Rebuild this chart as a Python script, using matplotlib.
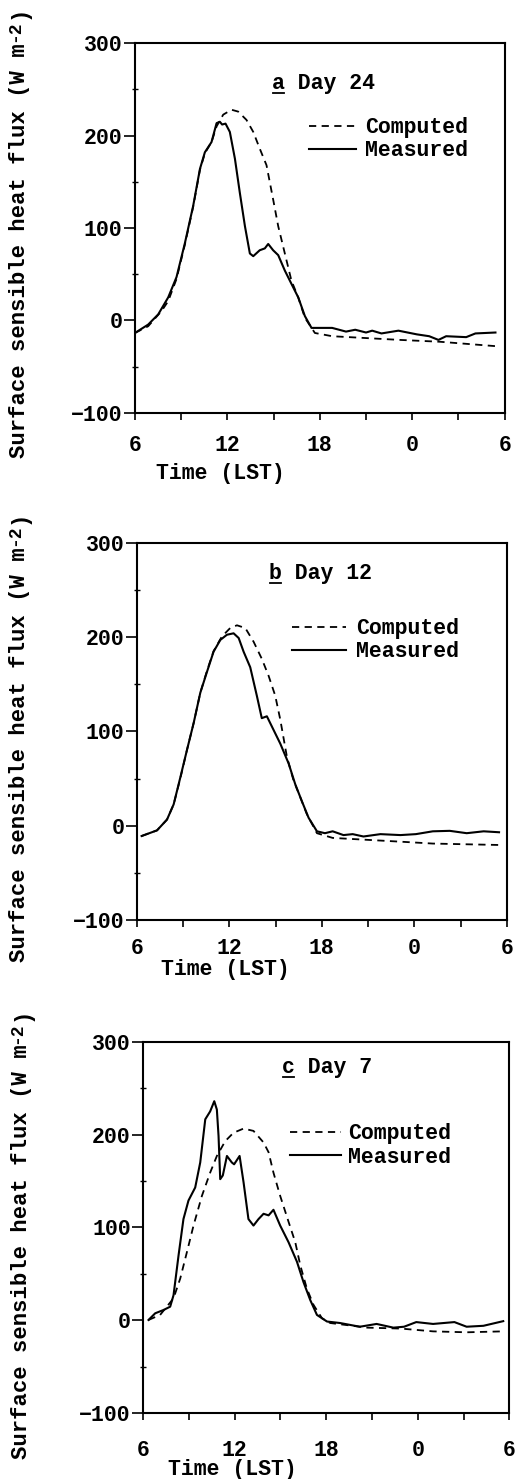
import matplotlib

matplotlib.use("Agg")
import matplotlib.pyplot as plt
from matplotlib.lines import Line2D

plt.rcParams["font.family"] = ["Liberation Mono", "DejaVu Sans Mono"]
plt.rcParams["font.weight"] = "bold"
plt.rcParams["axes.labelweight"] = "bold"

# time axis runs 06 LST to 06 LST next day, hours past midnight of day 1
x_ticks = [6, 9, 12, 15, 18, 21, 24, 27, 30]
x_tick_labels = ["6", "", "12", "", "18", "", "0", "", "6"]
y_ticks = [-100, 0, 100, 200, 300]

# --- a: Day 24 ---
a_meas_t = [6.0, 6.86, 7.51, 8.16, 8.70, 9.24, 9.78, 10.22, 10.54, 10.97, 11.30, 11.51,
            11.66, 11.88, 12.16, 12.49, 12.81, 13.14, 13.46, 13.68, 14.1, 14.43, 14.65,
            14.97, 15.30, 15.73, 16.16, 16.6, 17.03, 17.46, 18.1, 18.8, 19.7, 20.3, 21.0,
            21.4, 22.0, 23.1, 24.3, 25.1, 25.7, 26.2, 27.5, 28.1, 29.4]
a_meas_v = [-13.5, -4.4, 6.6, 25, 47, 83.5, 124, 164, 182, 193, 213.5, 215,
            212, 213, 204, 175, 138, 102, 72.5, 69.6, 76, 78, 82.8,
            76, 70.7, 54, 39.6, 25, 4.8, -8, -8, -8, -12, -10, -13,
            -11, -14, -11, -15, -17, -21, -17, -18, -14, -13]
a_comp_t = [6.0, 6.86, 7.73, 8.16, 8.70, 9.24, 9.78, 10.22, 10.54, 10.97, 11.30, 11.73,
            12.27, 12.70, 13.24, 13.68, 14.1, 14.54, 14.97, 15.3, 15.73, 16.16, 16.6,
            17.03, 17.68, 18.8, 23.2, 25.8, 29.6]
a_comp_v = [-13.5, -6.2, 10.3, 21, 45, 82, 123, 163, 181, 193, 210, 222.7,
            228, 226, 217, 204, 186, 168, 131, 102, 72.5, 43, 25,
            3, -13.5, -17, -21, -23, -28]

# --- b: Day 12 ---
b_meas_t = [6.3, 7.3, 7.95, 8.38, 8.81, 9.24, 9.68, 10.11, 10.54, 10.97, 11.41, 11.84,
            12.27, 12.6, 12.92, 13.35, 13.78, 14.1, 14.43, 14.76, 15.3, 15.84, 16.27,
            16.7, 17.14, 17.68, 18.2, 18.7, 19.4, 20.0, 20.7, 21.8, 23.1, 24.1, 25.2,
            26.3, 27.4, 28.5, 29.5]
b_meas_v = [-11, -5, 6.5, 22.6, 51, 80, 109, 141, 163, 184.5, 197, 202.5,
            204, 199, 184.5, 168, 137.7, 114, 116, 105, 87, 66, 44,
            26, 8.3, -6, -8, -6, -10, -9, -11.5, -9, -10, -9, -6,
            -5.5, -8, -6, -7]
b_comp_t = [6.3, 7.3, 7.95, 8.38, 8.81, 9.24, 9.68, 10.11, 10.54, 10.97, 11.51, 12.05,
            12.49, 13.03, 13.57, 14.1, 14.54, 14.97, 15.3, 15.73, 16.16, 16.6, 17.03,
            17.68, 18.7, 20.9, 23.1, 25.2, 29.5]
b_comp_v = [-11, -5, 6.5, 22.6, 50, 80, 109, 141, 164, 185, 200.6, 209.6,
            212.5, 209.6, 195, 177, 159, 138, 112.5, 73, 48, 30, 12,
            -8, -13, -15, -17, -19, -20.5]

# --- c: Day 7 ---
c_meas_t = [6.35, 6.79, 7.33, 7.77, 7.99, 8.32, 8.64, 8.97, 9.41, 9.74, 10.07, 10.39,
            10.66, 10.83, 10.94, 11.05, 11.22, 11.49, 11.81, 11.96, 12.32, 12.58, 12.9,
            13.23, 13.56, 13.89, 14.22, 14.54, 14.98, 15.53, 16.08, 16.51, 16.95, 17.39,
            18.05, 18.9, 20.2, 21.3, 22.4, 23.1, 23.9, 25.0, 26.4, 27.2, 28.3, 29.6]
c_meas_v = [0.3, 7.5, 11, 14.6, 27, 70, 109, 129, 143, 170, 216.5, 225,
            236, 227, 198.6, 152, 156, 177, 170, 168, 177, 148.6, 109,
            102, 109, 114.7, 113, 119, 102, 84, 63, 41, 21.8, 5.7,
            -1.4, -3, -7, -4, -8, -7, -2, -4, -2, -7, -6, -1]
c_comp_t = [6.35, 7.11, 7.99, 8.43, 8.87, 9.30, 9.85, 10.39, 10.83, 11.38, 11.92, 12.58,
            13.23, 13.89, 14.22, 14.54, 14.98, 15.53, 15.97, 16.30, 16.73, 17.17, 17.72,
            18.26, 20.7, 22.9, 25.0, 27.2, 29.6]
c_comp_v = [0.3, 5.7, 23.6, 45, 73.6, 102, 134, 159, 177, 193, 202, 206.5,
            204, 191.5, 181, 159, 134, 106, 84, 59, 34, 16.4, 2.1,
            -3, -8, -9, -12, -13, -12]

panels = [
    dict(letter="a", title="Day 24", meas=(a_meas_t, a_meas_v), comp=(a_comp_t, a_comp_v),
         rect=[0.262, 0.7208, 0.718, 0.250], title_xy=(14.9, 256), leg=(0.47, 0.80, 2.2, 0.4),
         ylab=(-0.284, 0.44), xlab=(0.23, -0.163), xpad=11),
    dict(letter="b", title="Day 12", meas=(b_meas_t, b_meas_v), comp=(b_comp_t, b_comp_v),
         rect=[0.266, 0.378, 0.718, 0.255], title_xy=(14.6, 267), leg=(0.42, 0.80, 2.5, 0.45),
         ylab=(-0.289, 0.438), xlab=(0.24, -0.132), xpad=8),
    dict(letter="c", title="Day 7", meas=(c_meas_t, c_meas_v), comp=(c_comp_t, c_comp_v),
         rect=[0.278, 0.0446, 0.711, 0.251], title_xy=(15.1, 272), leg=(0.40, 0.78, 2.4, 0.3),
         ylab=(-0.303, 0.434), xlab=(0.243, -0.153), xpad=14.5),
]

fig = plt.figure(figsize=(5.15, 14.79), dpi=100)
fs = 15.5
titles = []
ylabels = []

for p in panels:
    ax = fig.add_axes(p["rect"])
    ax.plot(*p["comp"], color="black", lw=1.3, ls=(0, (4, 3)), label="Computed")
    ax.plot(*p["meas"], color="black", lw=1.5, label="Measured")
    ax.set_xlim(6, 30)
    ax.set_ylim(-100, 300)

    ax.set_xticks(x_ticks)
    ax.set_xticklabels(x_tick_labels)
    ax.set_yticks(y_ticks)
    ax.set_yticks([-50, 50, 150, 250], minor=True)
    ax.tick_params(axis="x", direction="out", length=5, width=1.2, pad=p["xpad"], labelsize=fs)
    ax.tick_params(axis="y", direction="out", length=8, width=1.2, pad=1, labelsize=fs)
    ax.tick_params(axis="y", which="minor", direction="inout", length=4, width=1.0)
    for s in ax.spines.values():
        s.set_linewidth(1.5)

    tx, ty = p["title_xy"]
    label = f"{p['letter']} {p['title']}"
    titles.append((ax.text(tx, ty, label, fontsize=fs, va="center", ha="left"), len(label)))

    lx, ly, hl, hp = p["leg"]
    ax.legend(loc="upper left", bbox_to_anchor=(lx, ly), frameon=False, fontsize=fs,
              handlelength=hl, handletextpad=hp, labelspacing=0.1, borderpad=0,
              borderaxespad=0)

    # label without the exponent; "-2" and ")" are appended after layout
    ax.set_ylabel("Surface sensible heat flux (W m", fontsize=16, fontweight="bold")
    ax.yaxis.set_label_coords(*p["ylab"])
    ylabels.append(ax.yaxis.label)
    ax.text(p["xlab"][0], p["xlab"][1], "Time (LST)", transform=ax.transAxes,
            fontsize=fs, ha="center", va="center")

fig.canvas.draw()
inv = fig.transFigure.inverted()

# underline the panel letter (first character of each monospace title)
for t, n in titles:
    bb = t.get_window_extent()
    cw = bb.width / n
    (x0, y0), (x1, _) = inv.transform([(bb.x0 + 1, bb.y0 + 1), (bb.x0 + cw - 1, bb.y0 + 1)])
    fig.add_artist(Line2D([x0, x1], [y0, y0], transform=fig.transFigure,
                          color="black", lw=1.3))

# superscript exponent and closing bracket on the rotated y labels
for lab in ylabels:
    bb = lab.get_window_extent()
    xc = 0.5 * (bb.x0 + bb.x1)
    sup = fig.text(*inv.transform((xc - 5, bb.y1 + 1)), "-2", fontsize=13, rotation=90,
                   ha="center", va="bottom", fontweight="bold")
    fig.canvas.draw()
    sb = sup.get_window_extent()
    fig.text(*inv.transform((xc, sb.y1 + 1)), ")", fontsize=16, rotation=90,
             ha="center", va="bottom", fontweight="bold")

fig.savefig("out.png", dpi=100)
